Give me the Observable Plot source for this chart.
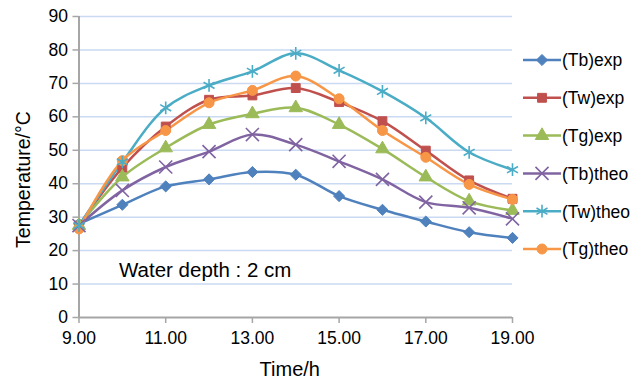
<!DOCTYPE html>
<html>
<head>
<meta charset="utf-8">
<script src="https://cdn.jsdelivr.net/npm/d3@7"></script>
<script src="https://cdn.jsdelivr.net/npm/@observablehq/plot@0.6"></script>
<style>
  html, body { margin: 0; padding: 0; background: #fff; }
  #chart { position: relative; width: 644px; height: 380px; }
  svg { overflow: visible; }
</style>
</head>
<body>
<div id="chart"></div>
<script>
// ---- data ----
const hours = [9, 10, 11, 12, 13, 14, 15, 16, 17, 18, 19];
const seriesNames = ["(Tb)exp", "(Tw)exp", "(Tg)exp", "(Tb)theo", "(Tw)theo", "(Tg)theo"];
const tbExp  = [28.0, 33.7, 39.2, 41.3, 43.5, 42.7, 36.3, 32.2, 28.7, 25.5, 23.8];
const twExp  = [27.5, 44.8, 57.1, 65.1, 66.4, 68.6, 64.4, 58.7, 49.9, 41.0, 35.5];
const tgExp  = [27.5, 42.0, 50.7, 57.7, 60.9, 62.7, 57.7, 50.4, 42.0, 34.8, 32.0];
const tbTheo = [27.5, 38.0, 45.0, 49.6, 54.7, 51.7, 46.7, 41.3, 34.5, 32.8, 29.5];
const twTheo = [27.5, 46.5, 62.7, 69.4, 73.6, 79.0, 73.9, 67.6, 59.7, 49.4, 44.2];
const tgTheo = [26.5, 46.9, 55.9, 64.2, 67.9, 72.2, 65.4, 55.9, 47.9, 39.8, 35.3];
const xTicks = [9, 11, 13, 15, 17, 19];
const yTicks = [0, 10, 20, 30, 40, 50, 60, 70, 80, 90];
const xLabel = "Time/h";
const yLabel = "Temperature/°C";
const note = "Water depth : 2 cm";

// ---- styles ----
const colors = ["#4F81BD", "#C0504D", "#9BBB59", "#8064A2", "#4BACC6", "#F79646"];
const symbols = [d3.symbolDiamond2, d3.symbolSquare, d3.symbolTriangle, d3.symbolTimes, d3.symbolAsterisk, d3.symbolCircle];
const filled = [true, true, true, false, false, true];
const font = "'Liberation Sans', Arial, Helvetica, sans-serif";
const axisGray = "#a6a6a6";
const gridColor = "#c9daf2";

const values = [tbExp, twExp, tgExp, tbTheo, twTheo, tgTheo];
const data = seriesNames.flatMap((name, i) =>
  hours.map((h, j) => ({series: name, hour: h, temp: values[i][j], filled: filled[i]})));

const xDomain = [hours[0], hours[hours.length - 1]];
const yDomain = [yTicks[0], yTicks[yTicks.length - 1]];

const plot = Plot.plot({
  width: 644,
  height: 380,
  marginLeft: 78.5,
  marginRight: 132,
  marginTop: 16,
  marginBottom: 63,
  style: {fontFamily: font, fontSize: "17px", color: "#000", background: "#fff"},
  x: {domain: xDomain},
  y: {domain: yDomain},
  color: {domain: seriesNames, range: colors},
  symbol: {domain: seriesNames, range: symbols},
  marks: [
    Plot.gridY(yTicks.filter(d => d > yDomain[0]), {stroke: gridColor, strokeOpacity: 1, strokeWidth: 1.5}),
    Plot.axisY(yTicks, {tickSize: 6, tickPadding: 5, stroke: axisGray, strokeWidth: 1.5, fontSize: 17.5, label: null}),
    Plot.axisX(xTicks, {tickSize: 6, tickPadding: 8, stroke: axisGray, strokeWidth: 1.5, fontSize: 17.5, tickFormat: d => d.toFixed(2), label: null}),
    Plot.ruleX([xDomain[0]], {stroke: axisGray, strokeWidth: 2}),
    Plot.ruleY([yDomain[0]], {stroke: axisGray, strokeWidth: 2}),
    Plot.line(data, {x: "hour", y: "temp", z: "series", stroke: "series", strokeWidth: 2.5, curve: "catmull-rom"}),
    Plot.dot(data, {filter: d => d.filled, x: "hour", y: "temp", symbol: "series", fill: "series", stroke: "series", strokeWidth: 1, r: 5}),
    Plot.dot(data, {filter: d => !d.filled, x: "hour", y: "temp", symbol: "series", stroke: "series", strokeWidth: 1.6, r: 6}),
    Plot.text([note], {frameAnchor: "bottom-left", dx: 40, dy: -47, textAnchor: "start", lineAnchor: "middle", fontSize: 20.5, fill: "#000"}),
    Plot.text([xLabel], {frameAnchor: "bottom", dx: -6, dy: 52, textAnchor: "middle", lineAnchor: "middle", fontSize: 20, fill: "#000"}),
    Plot.text([yLabel], {frameAnchor: "left", dx: -55, dy: 12.5, rotate: -90, textAnchor: "middle", lineAnchor: "middle", fontSize: 19.5, fill: "#000"})
  ]
});

document.getElementById("chart").appendChild(plot);

// ---- legend (drawn into the same SVG) ----
const svg = d3.select(plot);
const legend = svg.append("g").attr("font-family", font).attr("font-size", 17.5).attr("text-anchor", "start");
const rowY = d3.scalePoint().domain(seriesNames).range([60, 249]);
seriesNames.forEach((name, i) => {
  const g = legend.append("g").attr("transform", `translate(523,${rowY(name)})`);
  g.append("line").attr("x1", 0).attr("x2", 38).attr("y1", 0).attr("y2", 0)
    .attr("stroke", colors[i]).attr("stroke-width", 2.5);
  g.append("path")
    .attr("transform", "translate(19,0)")
    .attr("d", d3.symbol(symbols[i], Math.PI * (filled[i] ? 25 : 36))())
    .attr("fill", filled[i] ? colors[i] : "none")
    .attr("stroke", colors[i])
    .attr("stroke-width", filled[i] ? 1 : 1.6);
  g.append("text").attr("x", 39).attr("y", 0).attr("dy", "0.36em")
    .attr("text-anchor", "start").attr("fill", "#000").text(name);
});
</script>
</body>
</html>
